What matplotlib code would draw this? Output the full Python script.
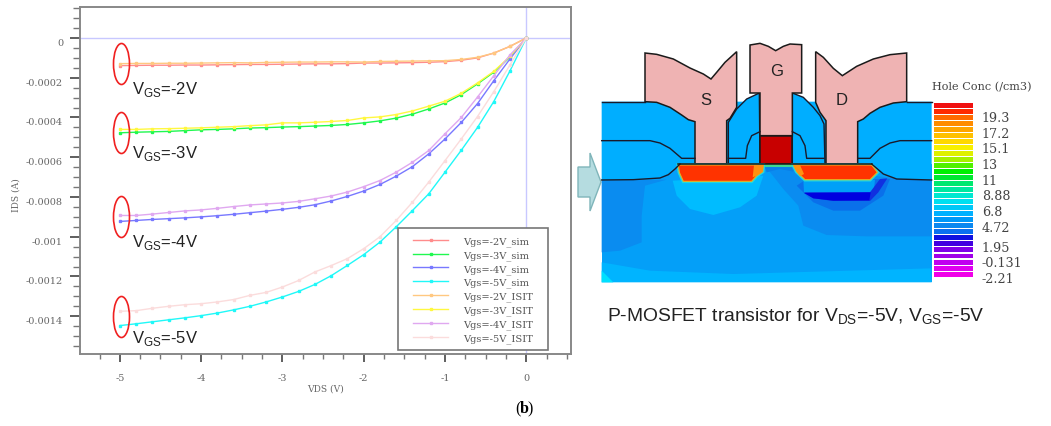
import matplotlib
matplotlib.use('Agg')
import matplotlib.pyplot as plt
from matplotlib.patches import Polygon, Ellipse, Rectangle
from matplotlib.ticker import MultipleLocator

plt.rcParams['font.family'] = ['Liberation Sans', 'DejaVu Sans']
plt.rcParams['mathtext.fontset'] = 'custom'
plt.rcParams['mathtext.rm'] = 'Liberation Sans'

vds = [-5, -4.8, -4.6, -4.4, -4.2, -4, -3.8, -3.6, -3.4, -3.2, -3, -2.8, -2.6, -2.4, -2.2,
       -2, -1.8, -1.6, -1.4, -1.2, -1, -0.8, -0.6, -0.4, -0.2, 0]

# currents in uA
sim_2 = [-139, -138, -137, -137, -136, -136, -135, -134, -133, -133, -132, -131, -130, -130, -129,
         -126, -126, -125, -124, -122, -119, -112, -100, -76, -42, 0]
sim_3 = [-477, -474, -472, -470, -466, -462, -460, -457, -453, -451, -448, -446, -443, -440, -435,
         -427, -417, -403, -383, -357, -327, -285, -231, -172, -96, 0]
sim_4 = [-923, -918, -913, -909, -905, -900, -894, -887, -879, -871, -862, -852, -839, -820, -797,
         -770, -737, -695, -647, -583, -508, -425, -330, -215, -105, 0]
sim_5 = [-1447, -1438, -1428, -1418, -1408, -1397, -1384, -1368, -1350, -1328, -1303, -1275, -1240,
         -1196, -1144, -1090, -1027, -950, -868, -784, -675, -565, -450, -320, -165, 0]
isit_2 = [-129, -128, -128, -127, -127, -126, -125, -124, -125, -123, -122, -121, -121, -120, -120,
          -121, -118, -117, -116, -115, -114, -108, -97, -76, -42, 0]
isit_3 = [-460, -460, -457, -456, -454, -452, -449, -446, -441, -437, -427, -427, -424, -420, -415,
          -402, -397, -385, -367, -343, -318, -278, -226, -168, -92, 0]
isit_4 = [-893, -893, -886, -878, -870, -865, -857, -848, -840, -835, -830, -822, -809, -795, -775,
          -748, -717, -675, -625, -566, -482, -400, -297, -190, -85, 0]
isit_5 = [-1375, -1372, -1360, -1350, -1342, -1337, -1328, -1316, -1295, -1280, -1253, -1220, -1177,
          -1145, -1110, -1060, -1000, -918, -826, -725, -617, -508, -395, -270, -135, 0]

series = [sim_2, sim_3, sim_4, sim_5, isit_2, isit_3, isit_4, isit_5]
names = ['Vgs=-2V_sim', 'Vgs=-3V_sim', 'Vgs=-4V_sim', 'Vgs=-5V_sim',
         'Vgs=-2V_ISIT', 'Vgs=-3V_ISIT', 'Vgs=-4V_ISIT', 'Vgs=-5V_ISIT']
colors = ['#ff8c8c', '#20f850', '#7878ff', '#20f8f8', '#ffc880', '#fff840', '#e0a8f0', '#fbdcdc']

y_ticks = [0, -0.0002, -0.0004, -0.0006, -0.0008, -0.001, -0.0012, -0.0014]
y_labels = ['0', '-0.0002', '-0.0004', '-0.0006', '-0.0008', '-0.001', '-0.0012', '-0.0014']
x_ticks = [-5, -4, -3, -2, -1, 0]

fig = plt.figure(figsize=(10.51, 4.27), dpi=100)
W, H = 1051.0, 427.0

# IV curves
ax = fig.add_axes([80 / W, 1 - 355 / H, (571 - 80) / W, (355 - 8) / H])
for s, name, c in zip(series, names, colors):
    ax.plot(vds, [v * 1e-6 for v in s], color=c, lw=1.0, marker='s', ms=1.6, label=name)
ax.axhline(0, color='#c8c8ff', lw=1, zorder=0)
ax.axvline(0, color='#c8c8ff', lw=1, zorder=0)
ax.set_xlim(-5.49, 0.55)
ax.set_ylim(-0.00159, 0.000156)
ax.set_xticks(x_ticks)
ax.set_xticklabels([str(t) for t in x_ticks], family='DejaVu Serif', fontsize=7, color='#666666')
ax.set_yticks(y_ticks)
ax.set_yticklabels(y_labels, family='DejaVu Serif', fontsize=7, color='#666666', va='top')
for lab in ax.get_yticklabels():
    lab.set_y(lab.get_position()[1])
ax.xaxis.set_minor_locator(MultipleLocator(0.25))
ax.yaxis.set_minor_locator(MultipleLocator(0.00005))
ax.tick_params(axis='y', which='major', length=7.2, width=1.2, color='#444444', pad=5)
ax.tick_params(axis='y', which='minor', length=5, width=1, color='#777777')
ax.tick_params(axis='x', which='major', length=5.5, width=1.2, color='#444444', pad=8)
ax.tick_params(axis='x', which='minor', length=3.6, width=1, color='#777777')
ax.set_xlabel('VDS (V)', family='DejaVu Serif', fontsize=6.6, color='#666666', labelpad=1)
ax.set_ylabel('IDS (A)', family='DejaVu Serif', fontsize=6.6, color='#666666', labelpad=4, y=0.46)
for sp in ax.spines.values():
    sp.set_color('#888888')
    sp.set_linewidth(1.4)
ax.add_patch(Rectangle((398 / W, 1 - 351 / H), 150 / W, 122 / H, transform=fig.transFigure,
                       fc='white', ec='#777777', lw=1.2, zorder=4.5))
leg = ax.legend(loc='lower right', bbox_to_anchor=((546 - 80) / 491, -2 / 347), borderaxespad=0,
                frameon=False, prop={'family': 'DejaVu Serif', 'size': 7.1}, labelspacing=0.42,
                handlelength=3.55, handletextpad=1.5, borderpad=1.35)
for t in leg.get_texts():
    t.set_color('#555555')

# annotations in image pixels
ov = fig.add_axes([0, 0, 1, 1])
ov.set_xlim(0, W)
ov.set_ylim(H, 0)
ov.axis('off')
ov.patch.set_alpha(0)
ellipse_y = [65, 134, 218, 318]
vgs_labels = ['-2V', '-3V', '-4V', '-5V']
label_y = [94, 158, 247, 343]
for ey, lab, ly in zip(ellipse_y, vgs_labels, label_y):
    ov.add_patch(Ellipse((121.5, ey), 16, 41, fill=False, ec='#f02020', lw=1.2))
    ov.text(132, ly, r'V$_{\mathrm{GS}}$=' + lab, fontsize=12, color='#222222', va='baseline')
ov.text(607, 322, r'P-MOSFET transistor for V$_{\mathrm{DS}}$=-5V, V$_{\mathrm{GS}}$=-5V',
        fontsize=13.9, color='#222222', va='baseline')
ov.text(515, 413, '(', family='Liberation Serif', fontsize=11.5, color='black')
ov.text(520, 413, 'b', family='Liberation Serif', fontweight='bold', fontsize=11.5, color='black')
ov.text(527, 413, ')', family='Liberation Serif', fontsize=11.5, color='black')

# arrow between the panels
arrow_x = [578, 590, 590, 601, 590, 590, 578]
arrow_y = [168, 168, 154, 183, 212, 198, 198]
ov.add_patch(Polygon(list(zip(arrow_x, arrow_y)), fc='#b5dce0', ec='#7fb5ba', lw=1))

# device cross section, in its own 3x pixel frame
d = fig.add_axes([600 / W, 1 - 330 / H, 451 / W, 300 / H])
d.set_xlim(0, 1353)
d.set_ylim(900, 0)
d.axis('off')

OXIDE = '#00aeff'
PINK = '#efb3b3'
LINE = '#1a1a2a'

region_base = [(5, 405), (995, 405), (995, 760), (5, 760)]
region_left = [(5, 455), (200, 452), (135, 470), (125, 560), (125, 640), (60, 665), (5, 670)]
region_right = [(495, 410), (580, 410), (860, 445), (995, 455), (995, 622), (800, 622), (680, 618), (610, 590),
                (595, 530), (550, 480)]
region_bottom = [(5, 700), (150, 725), (400, 735), (995, 718), (995, 760), (5, 760)]
region_corner = [(5, 725), (40, 760), (5, 760)]
region_dome = [(218, 455), (490, 440), (470, 500), (420, 535), (340, 558), (270, 540), (230, 500)]
region_halo = [(590, 470), (640, 520), (700, 545), (780, 545), (850, 500), (870, 450), (620, 450)]
region_blue = [(612, 490), (810, 490), (840, 450), (862, 448), (835, 490), (810, 516), (700, 516), (640, 508)]
region_under_d = [(610, 452), (825, 452), (822, 480), (810, 490), (612, 490)]
region_deep = [(612, 492), (812, 490), (808, 514), (700, 515), (640, 508)]

for pts, c in [(region_base, '#049ff8'), (region_left, '#0a8cf0'), (region_right, '#0a8cf0'),
               (region_bottom, '#00b4ff'), (region_corner, '#00e0ff'), (region_dome, '#00bcff'),
               (region_halo, '#0a70ea'), (region_under_d, '#00a0f8'), (region_blue, '#1030e0'),
               (region_deep, '#0000e0')]:
    d.add_patch(Polygon(pts, fc=c, ec='none', zorder=1))

oxide_band = [(5, 218), (995, 218), (995, 453), (890, 450), (850, 435), (815, 405), (240, 405), (225, 420),
              (205, 437), (180, 447), (100, 452), (5, 453)]
d.add_patch(Polygon(oxide_band, fc=OXIDE, ec='none', zorder=2))
spacer_l = [(385, 405), (385, 280), (410, 240), (440, 210), (478, 192), (480, 405)]
spacer_r = [(577, 405), (577, 192), (610, 205), (640, 235), (660, 260), (672, 285), (675, 405)]
for pts in [spacer_l, spacer_r]:
    d.add_patch(Polygon(pts, fc=OXIDE, ec=LINE, lw=1.0, zorder=2))

metal_s = [(135, 72), (170, 76), (220, 90), (270, 117), (310, 135), (333, 150), (350, 130), (375, 100), (410, 68),
           (410, 235), (390, 268), (380, 275), (380, 405), (285, 405), (285, 278), (265, 272), (245, 258), (210, 235),
           (170, 220), (135, 218)]
metal_g = [(450, 48), (480, 43), (505, 52), (527, 65), (550, 52), (570, 45), (605, 47), (605, 192), (577, 192),
           (577, 320), (480, 320), (480, 192), (450, 192)]
metal_d = [(647, 68), (670, 85), (700, 118), (727, 140), (770, 112), (820, 90), (870, 77), (920, 72), (920, 218),
           (880, 222), (840, 235), (810, 253), (790, 270), (773, 278), (773, 405), (678, 405), (678, 275), (660, 250),
           (647, 220)]
for pts in [metal_s, metal_g, metal_d]:
    d.add_patch(Polygon(pts, fc=PINK, ec='#1a1a1a', lw=1.1, zorder=3))
d.add_patch(Rectangle((480, 320), 97, 85, fc='#c80000', ec='#1a1a1a', lw=1.1, zorder=3))

step_l = [(385, 388), (437, 388), (442, 350), (455, 320), (480, 308)]
step_r = [(577, 308), (600, 320), (615, 350), (620, 388), (672, 388)]
step_a = [(5, 335), (150, 335), (180, 342), (210, 358), (245, 388), (285, 388)]
step_b = [(775, 388), (810, 388), (840, 358), (870, 342), (900, 335), (995, 335)]
top_l = [(5, 218), (135, 218)]
top_r = [(920, 218), (995, 218)]
low_l = [(5, 453), (100, 452), (180, 447), (205, 437), (225, 420), (240, 405)]
low_r = [(815, 405), (850, 435), (890, 450), (995, 453)]
for pts in [step_l, step_r, step_a, step_b, top_l, top_r, low_l, low_r]:
    d.plot([p[0] for p in pts], [p[1] for p in pts], color=LINE, lw=1.0, zorder=6)

source = [(235, 408), (490, 408), (488, 428), (470, 440), (455, 457), (250, 457), (238, 430)]
drain = [(580, 408), (815, 408), (832, 430), (810, 452), (615, 452), (590, 428)]
source_tip = [(462, 408), (490, 408), (488, 428), (470, 440), (458, 445)]
drain_tip = [(580, 408), (600, 408), (612, 435), (600, 442), (590, 428)]
channel = [(490, 405), (578, 405), (578, 415), (490, 415)]
channel_low = [(495, 415), (575, 415), (580, 428), (540, 420), (500, 430)]
d.add_patch(Polygon(channel, fc='#40d890', ec='none', zorder=4))
d.add_patch(Polygon(channel_low, fc='#0a80e8', ec='none', zorder=4))
for pts in [source, drain]:
    d.add_patch(Polygon(pts, fc='none', ec='#20d8e0', lw=2.6, zorder=4))
    d.add_patch(Polygon(pts, fc='#ff3300', ec='#e8b020', lw=0.8, zorder=5))
for pts in [source_tip, drain_tip]:
    d.add_patch(Polygon(pts, fc='#ff9010', ec='none', zorder=5))
d.plot([235, 815], [405, 405], color='#1a1a1a', lw=1.1, zorder=6)

for s, x, y in [('S', 318, 212), ('G', 530, 126), ('D', 726, 212)]:
    d.text(x, y, s, fontsize=12, color='#222222', ha='center', va='center', zorder=7)

# colour scale
scale_colors = ['#f01010', '#ff2a00', '#ff6a00', '#ff8c00', '#ffa500', '#ffc000', '#ffd800', '#f8f000', '#e0f000',
                '#a8f000', '#50f000', '#00f000', '#00e830', '#00e870', '#00e8a0', '#00e8d0', '#00e0f0', '#00c8f8',
                '#00b0ff', '#0098f8', '#0a88f0', '#0a70f0', '#1010e0', '#4000e0', '#8000e8', '#a000e8', '#c000f0',
                '#e000f0', '#f000e8']
scale_labels = ['19.3', '17.2', '15.1', '13', '11', '8.88', '6.8', '4.72', '1.95', '-0.131', '-2.21']
scale_label_y = [265, 313, 360, 407, 454, 501, 548, 595, 655, 702, 749]
band_h = (746 - 221) / len(scale_colors)
for i, c in enumerate(scale_colors):
    d.add_patch(Rectangle((1001, 221 + i * band_h), 119, band_h * 0.82, fc=c, ec='none'))
for lab, y in zip(scale_labels, scale_label_y):
    d.text(1145, y, lab, family='DejaVu Serif', fontsize=9.2, color='#444444', va='center')
d.text(997, 170, 'Hole Conc (/cm3)', family='DejaVu Serif', fontsize=8.1, color='#444444', va='center')

fig.savefig('out.png', dpi=100)
